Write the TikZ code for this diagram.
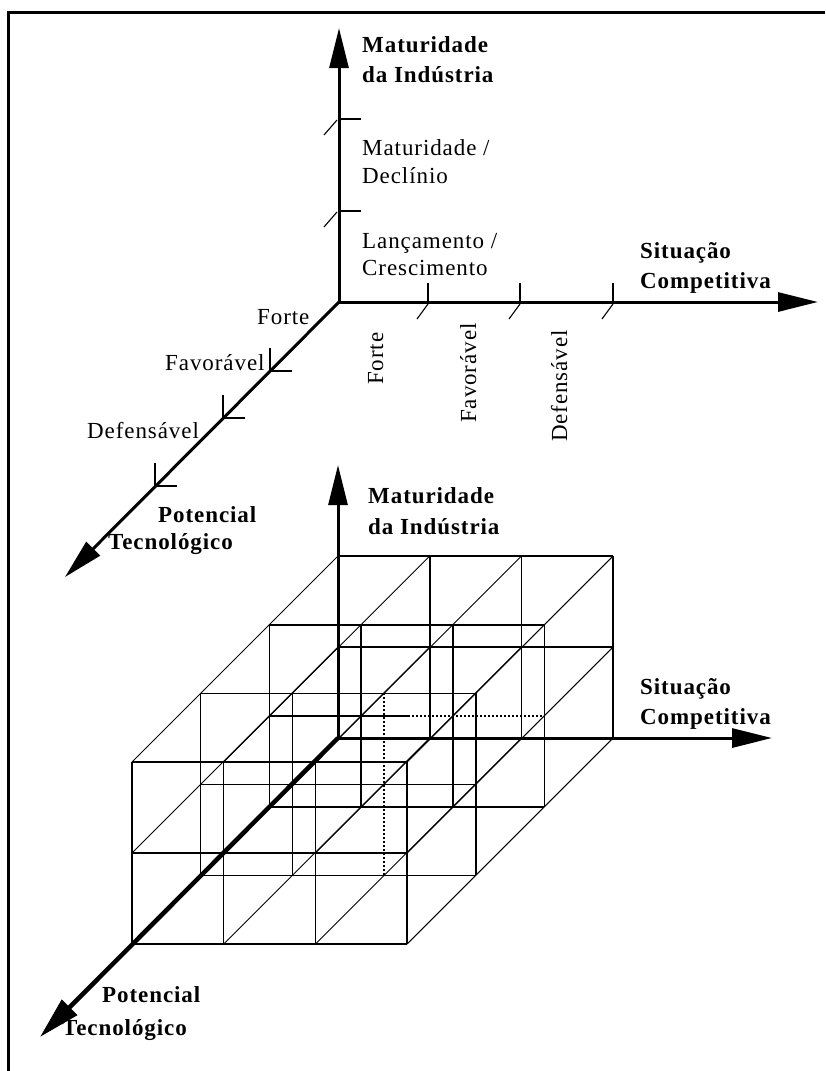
\documentclass[tikz,border=0pt]{standalone}
\usepackage{fontspec}
\setmainfont{Liberation Serif}
\newfontfamily\lblfont[LetterSpace=4]{Liberation Serif}
\usetikzlibrary{arrows.meta}

\begin{document}
\begin{tikzpicture}[x=1pt,y=-1pt,
  axis/.style={line width=3pt,-{Triangle[length=40pt,width=19pt]}},
  thickaxis/.style={line width=4.5pt,-{Triangle[length=42pt,width=21pt]}},
  tick/.style={line width=1.5pt},
  slash/.style={line width=1.1pt},
  gridxy/.style={line width=1.6pt},
  gridz/.style={line width=0.9pt},
  hidden/.style={line width=1.6pt,dash pattern=on 2pt off 2pt},
  lbl/.style={font=\lblfont\fontsize{23}{27}\selectfont,inner sep=0pt,anchor=base west},
  blbl/.style={lbl,font=\lblfont\bfseries\fontsize{23}{27}\selectfont}]
\useasboundingbox (0,0) rectangle (825,1071);

% frame
\draw[line width=2.5pt] (825,12.5) -- (8.5,12.5) -- (8.5,1071);

% ---------- upper diagram: axes with scale marks ----------
\coordinate (O1) at (339,302);
\coordinate (T1y) at (339,28);
\coordinate (T1x) at (818,302);
\coordinate (T1z) at (65,577);
\draw[axis] (O1) -- (T1y);
\draw[axis] (O1) -- (T1x);
\draw[axis] (O1) -- (T1z);

% marks on the vertical axis
\foreach \yy in {119,211} {
  \draw[tick] (339,\yy) -- ++(22,0);
  \draw[slash] (337,\yy+1) -- ++(-13,15);
}
% marks on the horizontal axis
\foreach \xx in {428,520,613} {
  \draw[tick] (\xx,302) -- ++(0,-19);
  \draw[slash] (\xx,304) -- ++(-11,15);
}
% marks on the diagonal axis
\foreach \xx in {270,223,155} {
  \draw[tick] (\xx,{302+339-\xx-23}) -- (\xx,{302+339-\xx}) -- ++(22,0);
}

\node[blbl] (m1a) at (362,52) {Maturidade};
\node[blbl] (m1b) at (362,82.5) {da Indústria};
\node[lbl] (md1) at (362,155) {Maturidade /};
\node[lbl] (md2) at (362,183) {Declínio};
\node[lbl] (lc1) at (362,248) {Lançamento /};
\node[lbl] (lc2) at (362,275) {Crescimento};
\node[blbl] (s1a) at (640,258) {Situação};
\node[blbl] (s1b) at (640,288) {Competitiva};

\node[lbl] (zf) at (257,324) {Forte};
\node[lbl] (zfa) at (165,370) {Favorável};
\node[lbl] (zd) at (87,438) {Defensável};
\node[blbl] (p1a) at (158,522) {Potencial};
\node[blbl] (p1b) at (108,549) {Tecnológico};

\node[lbl,rotate=90] (xf) at (383,385) {Forte};
\node[lbl,rotate=90] (xfa) at (476,423) {Favorável};
\node[lbl,rotate=90] (xd) at (567,442) {Defensável};

% ---------- lower diagram: 3 x 2 x 3 cell lattice ----------
\coordinate (O2) at (338,738);
\coordinate (T2y) at (338,465);
\coordinate (T2x) at (772,738);
\coordinate (T2z) at (40,1037);

% lines along the horizontal direction
\foreach \j in {0,...,3} {
  \foreach \k in {0,1,2} {
    \ifnum\j\k=11
      \draw[gridxy] ({338-68.7*\j},{738+68.7*\j-91*\k}) -- (408,{738+68.7*\j-91*\k});
      \draw[hidden] (408,{738+68.7*\j-91*\k}) -- ({613-68.7*\j},{738+68.7*\j-91*\k});
    \else
      \draw[gridxy] ({338-68.7*\j},{738+68.7*\j-91*\k}) -- ++(275,0);
    \fi
  }
}
% vertical lines
\foreach \i in {0,...,3} {
  \foreach \j in {0,...,3} {
    \ifnum\i\j=22
      \draw[hidden] ({338+91.7*\i-68.7*\j},{738+68.7*\j}) -- ++(0,-182);
    \else
      \draw[gridxy] ({338+91.7*\i-68.7*\j},{738+68.7*\j}) -- ++(0,-182);
    \fi
  }
}
% lines along the depth direction
\foreach \i in {0,...,3} {
  \foreach \k in {0,1,2} {
    \draw[gridz] ({338+91.7*\i},{738-91*\k}) -- ++(-206,206);
  }
}

\draw[axis] (O2) -- (T2y);
\draw[axis] (O2) -- (T2x);
\draw[thickaxis] (O2) -- (T2z);

\node[blbl] (m2a) at (368,503) {Maturidade};
\node[blbl] (m2b) at (368,534) {da Indústria};
\node[blbl] (s2a) at (640,694) {Situação};
\node[blbl] (s2b) at (640,724) {Competitiva};
\node[blbl] (p2a) at (102,1002) {Potencial};
\node[blbl] (p2b) at (62,1035) {Tecnológico};
\end{tikzpicture}
\end{document}
